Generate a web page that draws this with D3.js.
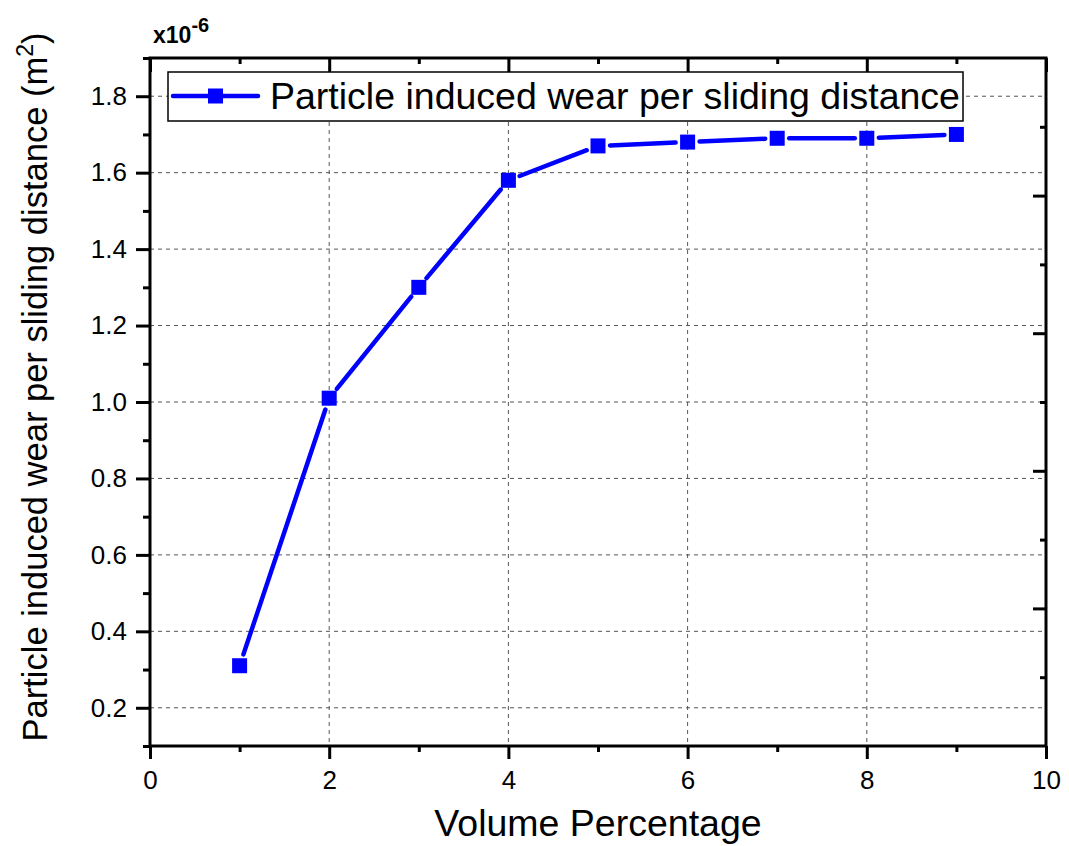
<!DOCTYPE html>
<html>
<head>
<meta charset="utf-8">
<script src="https://cdn.jsdelivr.net/npm/d3@7"></script>
<style>
  html, body { margin: 0; padding: 0; background: #fff; }
  svg { display: block; font-family: "Liberation Sans", Arial, sans-serif; }
</style>
</head>
<body>
<svg id="chart" width="1069" height="846"></svg>
<script>
// ---- data ----
const volumePct = [1, 2, 3, 4, 5, 6, 7, 8, 9];
const wear = [0.31, 1.01, 1.30, 1.58, 1.67, 1.68, 1.69, 1.69, 1.70]; // x10^-6 m^2
const seriesName = "Particle induced wear per sliding distance";
const xMajorTicks = [0, 2, 4, 6, 8, 10];
const xMinorTicks = [1, 3, 5, 7, 9];
const yMajorTicks = [0.2, 0.4, 0.6, 0.8, 1.0, 1.2, 1.4, 1.6, 1.8];
const yMinorTicks = [0.1, 0.3, 0.5, 0.7, 0.9, 1.1, 1.3, 1.5, 1.7, 1.9];
const rightMajorTicks = [2, 4, 6, 8];
const rightMinorTicks = [1, 3, 5, 7, 9];
const xTitle = "Volume Percentage";
const yTitle = "Particle induced wear per sliding distance (m";

// ---- layout ----
const L = 150, R = 1046, T = 58, B = 746;
const svg = d3.select("#chart");
const x = d3.scaleLinear().domain([0, 10]).range([L, R]);
const y = d3.scaleLinear().domain([0.1, 1.9]).range([B, T]);
const yR = d3.scaleLinear().domain([0, 10]).range([B, T]);
const blue = "#0000ff";

// grid
const grid = svg.append("g").attr("stroke", "#555").attr("stroke-width", 1).attr("stroke-dasharray", "4,4");
grid.selectAll("line.gx").data(xMajorTicks.filter(d => d > 0 && d < 10)).enter().append("line")
  .attr("x1", d => x(d)).attr("x2", d => x(d)).attr("y1", T).attr("y2", B);
grid.selectAll("line.gy").data(yMajorTicks).enter().append("line")
  .attr("y1", d => y(d)).attr("y2", d => y(d)).attr("x1", L).attr("x2", R);

// axes via d3 axis generators
const tickFont = "26px";
function styleAxis(g, w) {
  g.select(".domain").remove();
  g.selectAll(".tick line").attr("stroke", "#000").attr("stroke-width", w);
  g.selectAll(".tick text").attr("fill", "#000").attr("font-size", tickFont)
    .attr("font-family", "Liberation Sans, Arial, sans-serif");
}
// bottom
svg.append("g").attr("transform", `translate(0,${B})`)
  .call(d3.axisBottom(x).tickValues(xMajorTicks).tickSize(13).tickPadding(12).tickFormat(d3.format("d")))
  .call(g => styleAxis(g, 3));
svg.append("g").attr("transform", `translate(0,${B})`)
  .call(d3.axisBottom(x).tickValues(xMinorTicks).tickSize(6).tickFormat(""))
  .call(g => styleAxis(g, 3));
// left
svg.append("g").attr("transform", `translate(${L},0)`)
  .call(d3.axisLeft(y).tickValues(yMajorTicks).tickSize(14).tickPadding(9).tickFormat(d3.format(".1f")))
  .call(g => styleAxis(g, 3));
svg.append("g").attr("transform", `translate(${L},0)`)
  .call(d3.axisLeft(y).tickValues(yMinorTicks).tickSize(7).tickFormat(""))
  .call(g => styleAxis(g, 3));
// top (inward)
svg.append("g").attr("transform", `translate(0,${T})`)
  .call(d3.axisBottom(x).tickValues(xMajorTicks).tickSize(14).tickFormat(""))
  .call(g => styleAxis(g, 3));
svg.append("g").attr("transform", `translate(0,${T})`)
  .call(d3.axisBottom(x).tickValues(xMinorTicks).tickSize(6).tickFormat(""))
  .call(g => styleAxis(g, 3));
// right (inward)
svg.append("g").attr("transform", `translate(${R},0)`)
  .call(d3.axisLeft(yR).tickValues(rightMajorTicks).tickSize(13).tickFormat(""))
  .call(g => styleAxis(g, 3));
svg.append("g").attr("transform", `translate(${R},0)`)
  .call(d3.axisLeft(yR).tickValues(rightMinorTicks).tickSize(6).tickFormat(""))
  .call(g => styleAxis(g, 3));

// frame
svg.append("rect").attr("x", L).attr("y", T).attr("width", R - L).attr("height", B - T)
  .attr("fill", "none").attr("stroke", "#000").attr("stroke-width", 3);

// series line with gaps around markers
const pts = volumePct.map((v, i) => [x(v), y(wear[i])]);
const gap = 12;
const segs = [];
for (let i = 0; i < pts.length - 1; i++) {
  const [x1, y1] = pts[i], [x2, y2] = pts[i + 1];
  const len = Math.hypot(x2 - x1, y2 - y1);
  const ux = (x2 - x1) / len, uy = (y2 - y1) / len;
  segs.push([[x1 + ux * gap, y1 + uy * gap], [x2 - ux * gap, y2 - uy * gap]]);
}
svg.append("g").selectAll("path").data(segs).enter().append("path")
  .attr("d", d => d3.line()(d)).attr("stroke", blue).attr("stroke-width", 4.5)
  .attr("stroke-linecap", "round").attr("fill", "none");
const ms = 15;
svg.append("g").selectAll("rect").data(volumePct).enter().append("rect")
  .attr("x", (d) => x(d) - ms / 2).attr("y", (d, i) => y(wear[i]) - ms / 2)
  .attr("width", ms).attr("height", ms).attr("fill", blue);

// legend
const lg = svg.append("g");
lg.append("rect").attr("x", 168).attr("y", 72).attr("width", 795).attr("height", 49)
  .attr("fill", "#fff").attr("stroke", "#000").attr("stroke-width", 1.5);
lg.append("line").attr("x1", 173).attr("x2", 258).attr("y1", 96).attr("y2", 96)
  .attr("stroke", blue).attr("stroke-width", 4.5).attr("stroke-linecap", "round");
lg.append("rect").attr("x", 215.5 - ms / 2).attr("y", 96 - ms / 2).attr("width", ms).attr("height", ms).attr("fill", blue);
lg.append("text").attr("x", 270).attr("y", 109).attr("font-size", "37.5px").attr("fill", "#000").text(seriesName);

// multiplier
const mult = svg.append("text").attr("x", 153).attr("y", 43).attr("font-size", "23px").attr("font-weight", "bold");
mult.append("tspan").text("x10");
mult.append("tspan").attr("dy", -11).attr("font-size", "20px").text("-6");

// axis titles
svg.append("text").attr("x", 598).attr("y", 836).attr("text-anchor", "middle")
  .attr("font-size", "37.5px").text(xTitle);
const yt = svg.append("text").attr("transform", `translate(47,387) rotate(-90)`)
  .attr("text-anchor", "middle").attr("font-size", "34.5px");
yt.append("tspan").text(yTitle);
yt.append("tspan").attr("dy", -14).attr("font-size", "23px").text("2");
yt.append("tspan").attr("dy", 14).text(")");
</script>
</body>
</html>
